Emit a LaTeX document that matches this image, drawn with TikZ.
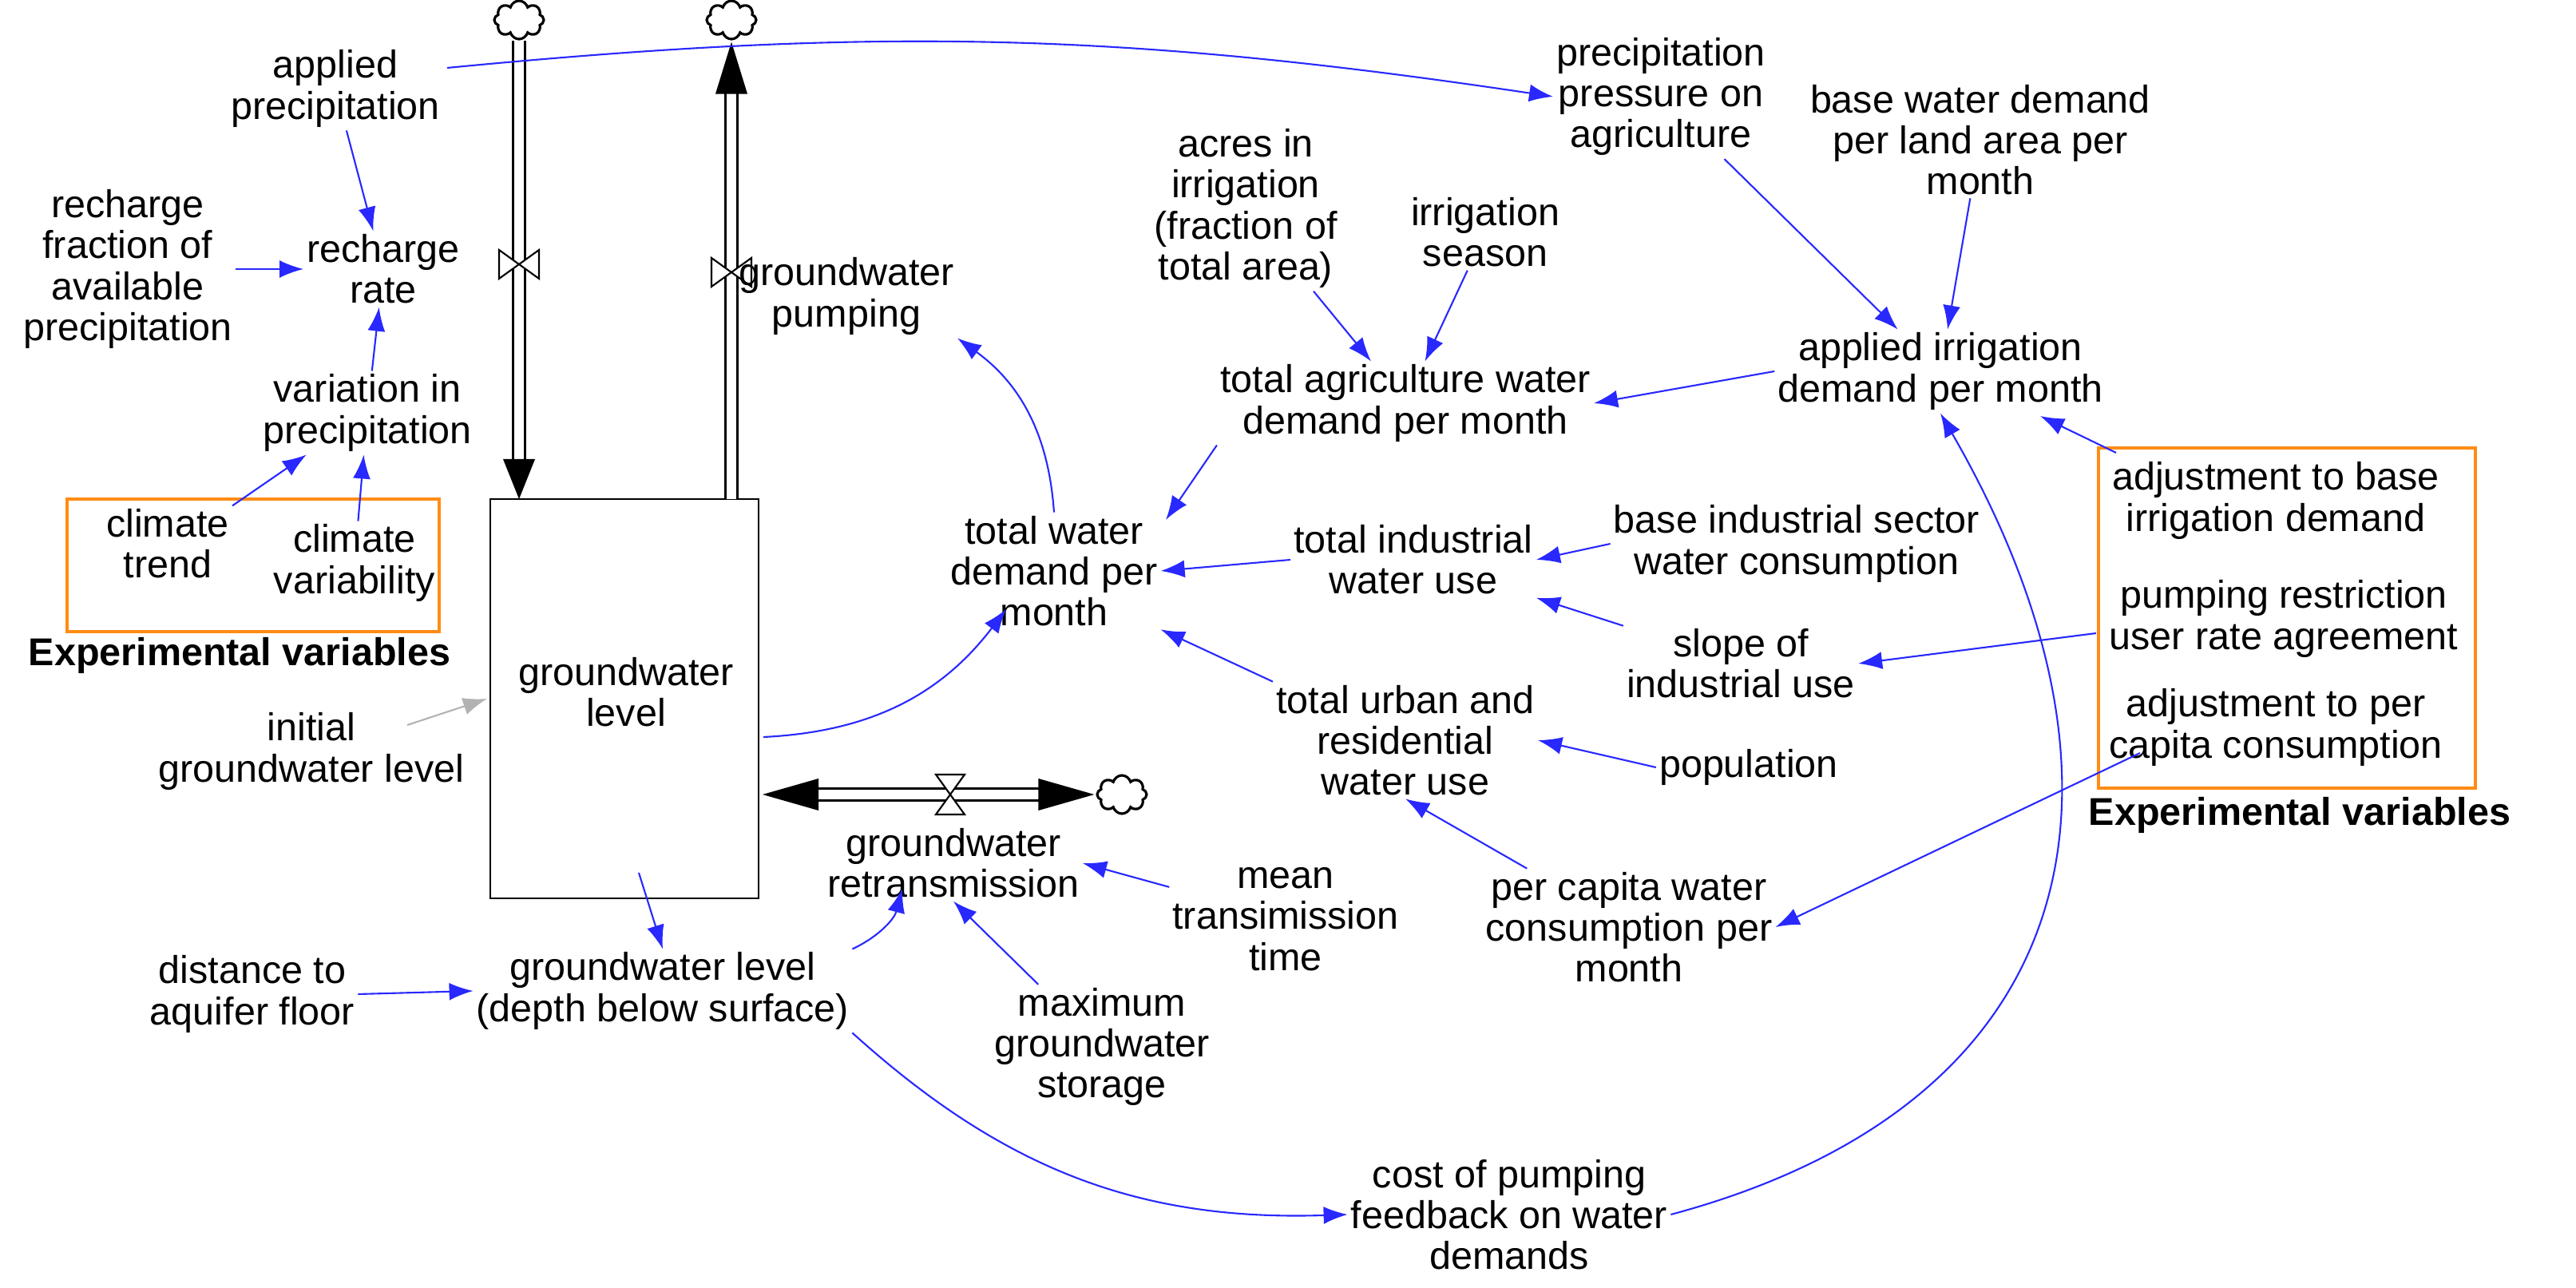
\documentclass[tikz,border=0pt]{standalone}
\usepackage{fontspec}
\setmainfont{Liberation Sans}
\usetikzlibrary{arrows.meta,shapes.symbols,calc}

\definecolor{linkblue}{RGB}{40,40,255}
\definecolor{boxorange}{RGB}{255,140,20}

\tikzset{
  var/.style={align=center, inner sep=1pt, font=\fontsize{13.8}{14.6}\selectfont},
  link/.style={draw=linkblue, line width=0.6pt, -{Latex[length=0.3cm,width=0.22cm]}},
  pipe/.style={draw=black, double=white, double distance=3.5pt, line width=0.7pt},
  sink/.style={cloud, cloud puffs=8, draw, line width=0.9pt, minimum width=0.62cm, minimum height=0.48cm, inner sep=0pt},
  expbox/.style={draw=boxorange, line width=1.4pt},
  valve/.pic={
    \draw[fill=white, line width=0.6pt] (-0.18,0.25) -- (0.18,0.25) -- (0,0) -- cycle;
    \draw[fill=white, line width=0.6pt] (-0.18,-0.25) -- (0.18,-0.25) -- (0,0) -- cycle;
  }
}

\begin{document}
\begin{tikzpicture}
	\useasboundingbox (0,0) rectangle (32.26,16.13);

	% stock and clouds
	\draw[line width=0.7pt] (6.14,4.88) rectangle (9.5,9.88);
	\node[var] (gwl) at (7.84,7.46) {groundwater\\level};
	\node[sink] (cin) at (6.5,15.88) {};
	\node[sink] (cout) at (9.16,15.88) {};
	\node[sink] (cret) at (14.05,6.18) {};
	\coordinate (intop) at (6.5,9.88);
	\coordinate (outtop) at (9.16,9.88);
	\coordinate (retl) at (9.5,6.18);

	% pipes
	\draw[pipe] (cin.south) -- ($(intop)+(0,0.5)$);
	\fill (intop) -- ++(-0.2,0.5) -- ++(0.4,0) -- cycle;
	\draw[pipe] (outtop) -- ($(cout.south)+(0,-0.65)$);
	\fill ($(cout.south)+(0,-0.02)$) -- ++(-0.2,-0.65) -- ++(0.4,0) -- cycle;
	\draw[pipe] ($(retl)+(0.7,0)$) -- ($(cret.west)+(-0.7,0)$);
	\fill ($(retl)+(0.05,0)$) -- ++(0.7,0.2) -- ++(0,-0.4) -- cycle;
	\fill ($(cret.west)+(-0.02,0)$) -- ++(-0.7,0.2) -- ++(0,-0.4) -- cycle;
	\pic[rotate=90] at (6.5,12.82) {valve};
	\pic[rotate=90] at (9.16,12.72) {valve};
	\pic at (11.9,6.18) {valve};

	% variables
	\node[var] (apprec) at (4.2,15.02) {applied\\precipitation};
	\node[var] (rfrac) at (1.6,12.76) {recharge\\fraction of\\available\\precipitation};
	\node[var] (rrate) at (4.8,12.76) {recharge\\rate};
	\node[var] (varprec) at (4.6,10.96) {variation in\\precipitation};
	\node[var] (ctrend) at (2.1,9.32) {climate\\trend};
	\node[var] (cvar) at (4.44,9.08) {climate\\variability};
	\node[var] (initgw) at (3.9,6.72) {initial\\groundwater level};
	\node[var] (pump) at (10.6,12.42) {groundwater\\pumping};
	\node[var] (retr) at (11.94,5.32) {groundwater\\retransmission};
	\node[var] (twd) at (13.2,8.98) {total water\\demand per\\month};
	\node[var] (tagri) at (17.6,11.08) {total agriculture water\\demand per month};
	\node[var] (acres) at (15.6,13.52) {acres in\\irrigation\\(fraction of\\total area)};
	\node[var] (season) at (18.6,13.22) {irrigation\\season};
	\node[var] (ppress) at (20.8,14.92) {precipitation\\pressure on\\agriculture};
	\node[var] (basedem) at (24.8,14.38) {base water demand\\per land area per\\month};
	\node[var] (appirr) at (24.3,11.48) {applied irrigation\\demand per month};
	\node[var] (tind) at (17.7,9.12) {total industrial\\water use};
	\node[var] (baseind) at (22.5,9.32) {base industrial sector\\water consumption};
	\node[var] (slope) at (21.8,7.82) {slope of\\industrial use};
	\node[var] (turb) at (17.6,6.86) {total urban and\\residential\\water use};
	\node[var] (pop) at (21.9,6.52) {population};
	\node[var] (percap) at (20.4,4.52) {per capita water\\consumption per\\month};
	\node[var] (adjirr) at (28.5,9.86) {adjustment to base\\irrigation demand};
	\node[var] (restr) at (28.6,8.38) {pumping restriction\\user rate agreement};
	\node[var] (adjcap) at (28.5,7.02) {adjustment to per\\capita consumption};
	\node[var] (meant) at (16.1,4.62) {mean\\transimission\\time};
	\node[var] (maxst) at (13.8,3.02) {maximum\\groundwater\\storage};
	\node[var] (depth) at (8.3,3.72) {groundwater level\\(depth below surface)};
	\node[var] (dist) at (3.16,3.68) {distance to\\aquifer floor};
	\node[var] (cost) at (18.9,0.92) {cost of pumping\\feedback on water\\demands};

	% experimental boxes
	\draw[expbox] (0.84,8.22) rectangle (5.5,9.88);
	\node[var, font=\fontsize{13.8}{14.6}\bfseries] (exp1) at (3.0,7.92) {Experimental variables};
	\draw[expbox] (26.28,6.26) rectangle (31.0,10.52);
	\node[var, font=\fontsize{13.8}{14.6}\bfseries] (exp2) at (28.8,5.92) {Experimental variables};

	% link end points
	\coordinate (stockr) at (9.56,6.9);
	\coordinate (twdin) at (12.6,8.5);
	\coordinate (twdtop) at (14.6,9.62);
	\coordinate (retrin) at (11.3,5.0);
	\coordinate (irrin) at (25.55,10.92);

	% links
	\draw[link] (5.6,15.28) to[bend left=7] (ppress.west);
	\draw[link] (apprec) -- (rrate);
	\draw[link] (rfrac) -- (rrate);
	\draw[link] (varprec) -- (rrate);
	\draw[link] (ctrend.north east) -- (varprec);
	\draw[link] (cvar) -- (varprec);
	\draw[link, draw=gray!60] (5.1,7.05) -- (6.1,7.38);
	\draw[link] (stockr) to[bend right=25] (twdin);
	\draw[link] (twd.north) to[bend right=25] (pump.south east);
	\draw[link] (tagri.south west) -- (twdtop);
	\draw[link] (acres) -- (tagri);
	\draw[link] (season) -- (tagri);
	\draw[link] (appirr.west) -- (tagri.east);
	\draw[link] (ppress) -- (appirr);
	\draw[link] (basedem) -- (appirr);
	\draw[link] (26.5,10.46) -- (irrin);
	\draw[link] (tind.west) -- (twd.east);
	\draw[link] (baseind.west) -- (tind.east);
	\draw[link] (slope) -- (tind.south east);
	\draw[link] (turb.north west) -- (twd.south east);
	\draw[link] (pop.west) -- (turb.east);
	\draw[link] (percap) -- (turb.south);
	\draw[link] (26.8,6.7) -- (percap.east);
	\draw[link] (26.25,8.2) -- (slope.east);
	\draw[link] (8.0,5.2) -- (depth.north);
	\draw[link] (dist.east) -- (depth.west);
	\draw[link] (depth.north east) to[bend right=25] (retrin);
	\draw[link] (meant) -- (retr.east);
	\draw[link] (maxst) -- (retr.south);
	\draw[link] (depth.south east) to[bend right=22] (cost.west);
	\draw[link] (cost.east) to[out=15, in=-60, looseness=1.3] (appirr.south);
\end{tikzpicture}
\end{document}
